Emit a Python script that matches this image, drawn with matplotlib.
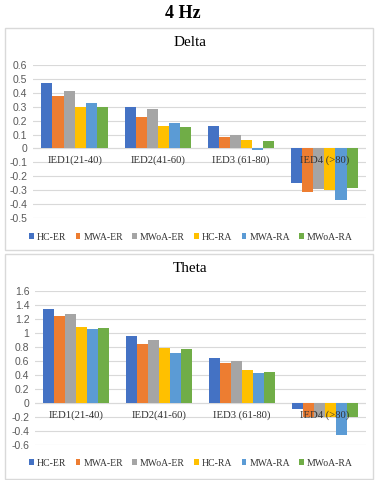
import matplotlib
matplotlib.use("Agg")
import matplotlib.pyplot as plt
import numpy as np
from matplotlib.patches import Rectangle
from matplotlib.ticker import FuncFormatter, MultipleLocator

categories = ["IED1(21-40)", "IED2(41-60)", "IED3 (61-80)", "IED4 (>80)"]
series = ["HC-ER", "MWA-ER", "MWoA-ER", "HC-RA", "MWA-RA", "MWoA-RA"]
colors = ["#4472C4", "#ED7D31", "#A5A5A5", "#FFC000", "#5B9BD5", "#70AD47"]

delta_hc_er = [0.47, 0.30, 0.16, -0.25]
delta_mwa_er = [0.38, 0.225, 0.085, -0.315]
delta_mwoa_er = [0.41, 0.285, 0.10, -0.29]
delta_hc_ra = [0.295, 0.16, 0.06, -0.30]
delta_mwa_ra = [0.33, 0.18, -0.01, -0.37]
delta_mwoa_ra = [0.30, 0.155, 0.05, -0.285]

theta_hc_er = [1.35, 0.96, 0.64, -0.09]
theta_mwa_er = [1.245, 0.85, 0.57, -0.20]
theta_mwoa_er = [1.27, 0.895, 0.60, -0.20]
theta_hc_ra = [1.08, 0.79, 0.47, -0.20]
theta_mwa_ra = [1.06, 0.72, 0.43, -0.46]
theta_mwoa_ra = [1.07, 0.77, 0.44, -0.20]

delta = [delta_hc_er, delta_mwa_er, delta_mwoa_er, delta_hc_ra, delta_mwa_ra, delta_mwoa_ra]
theta = [theta_hc_er, theta_mwa_er, theta_mwoa_er, theta_hc_ra, theta_mwa_ra, theta_mwoa_ra]

W, H = 379, 480
fig = plt.figure(figsize=(W / 100, H / 100), dpi=100)
fig.patch.set_facecolor("white")

def fx(px):
    return px / W

def fy(py):
    return 1 - py / H

# panel frames
for (x0, y0, x1, y1) in [(5, 28, 373, 250), (5, 254, 373, 479)]:
    fig.patches.append(Rectangle((fx(x0), fy(y1)), fx(x1 - x0), (y1 - y0) / H,
                                 transform=fig.transFigure, facecolor="white",
                                 edgecolor="#D9D9D9", linewidth=1.0, zorder=-5))

fig.text(fx(183), fy(14), "4 Hz", ha="center", va="center", fontsize=13,
         fontweight="bold", family="Liberation Serif", color="black")

fmt = FuncFormatter(lambda v, p: ("%g" % round(v, 2)).replace("\u2212", "-"))

def panel(ax_rect, data, ylim, step, title, title_y, legend_y):
    ax = fig.add_axes(ax_rect, zorder=2)
    ax.set_facecolor("none")
    x = np.arange(len(categories))
    bw = 0.8 / len(series)
    for i, (name, vals, c) in enumerate(zip(series, data, colors)):
        ax.bar(x - 0.4 + bw * (i + 0.5), vals, width=bw, color=c, label=name, zorder=2)
    ax.set_xlim(-0.5, len(categories) - 0.5)
    ax.set_ylim(*ylim)
    ax.yaxis.set_major_locator(MultipleLocator(step))
    ax.yaxis.set_major_formatter(fmt)
    ax.grid(axis="y", color="#D9D9D9", linewidth=0.8, zorder=0)
    ax.set_axisbelow(True)
    ax.axhline(0, color="#D9D9D9", linewidth=0.8, zorder=1)
    for s in ax.spines.values():
        s.set_visible(False)
    ax.set_xticks([])
    ax.tick_params(axis="y", length=0, pad=4, labelsize=7.5, labelcolor="#595959")
    for lab in ax.get_yticklabels():
        lab.set_family("Liberation Sans")
    for i, cat in enumerate(categories):
        ax.annotate(cat, xy=(i, 0), xytext=(0, -12), textcoords="offset pixels",
                    ha="center", va="center", fontsize=7.7, family="Liberation Serif",
                    color="#333333", zorder=5)
    fig.text(fx(190), fy(title_y), title, ha="center", va="center", fontsize=11,
             family="Liberation Serif", color="black")
    handles, labels = ax.get_legend_handles_labels()
    leg = fig.legend(handles, labels, loc="center", bbox_to_anchor=(fx(191), fy(legend_y)),
                     ncol=6, frameon=False, handlelength=0.5, handleheight=0.5,
                     handletextpad=0.3, columnspacing=0.95, borderaxespad=0,
                     prop={"family": "Liberation Serif", "size": 7})
    for t in leg.get_texts():
        t.set_color("#333333")
    return ax

panel([fx(33), fy(218), fx(333), 153 / H], delta, (-0.5, 0.6), 0.1, "Delta", 43, 237)
panel([fx(35), fy(445), fx(331), 154 / H], theta, (-0.6, 1.6), 0.2, "Theta", 269, 463)

fig.savefig("out.png", dpi=100, facecolor="white")
